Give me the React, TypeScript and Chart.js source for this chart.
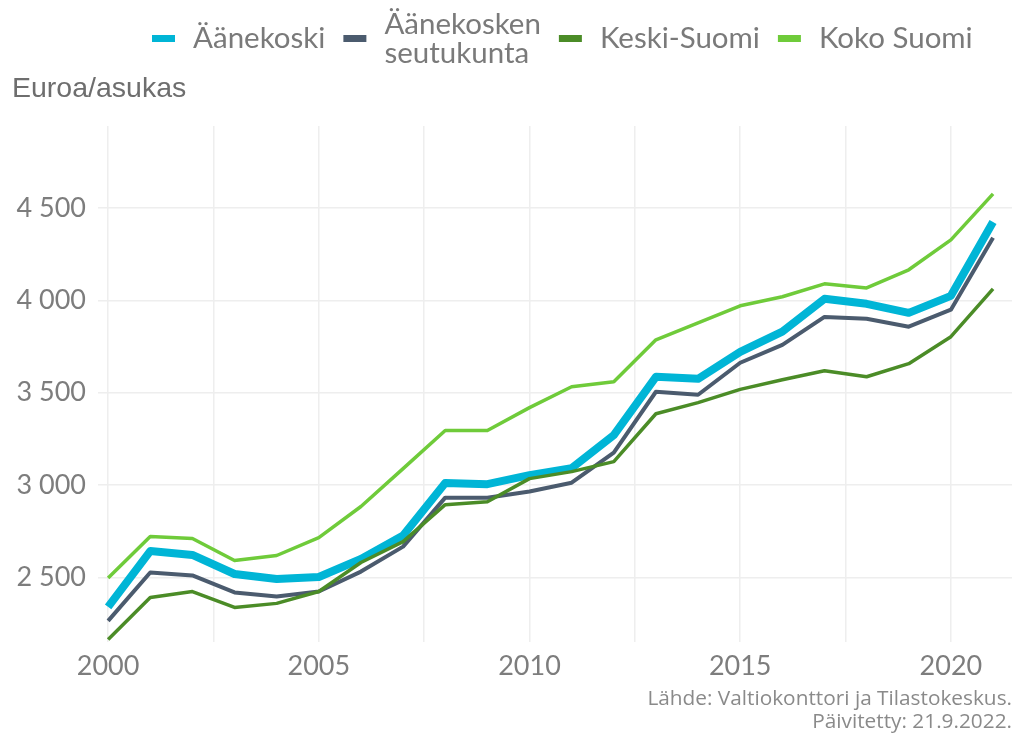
import React, { useEffect, useRef } from "react";
import { Chart, registerables } from "chart.js";

Chart.register(...registerables);

const years = [2000, 2001, 2002, 2003, 2004, 2005, 2006, 2007, 2008, 2009, 2010, 2011, 2012, 2013, 2014, 2015, 2016, 2017, 2018, 2019, 2020, 2021];

const aanekoski = [2341, 2643, 2622, 2519, 2492, 2503, 2600, 2727, 3011, 3005, 3054, 3092, 3270, 3586, 3575, 3721, 3830, 4008, 3981, 3932, 4024, 4424];
const seutukunta = [2265, 2527, 2511, 2419, 2397, 2424, 2532, 2667, 2932, 2932, 2965, 3013, 3176, 3505, 3489, 3662, 3759, 3910, 3900, 3857, 3949, 4338];
const keskiSuomi = [2165, 2392, 2424, 2338, 2360, 2424, 2581, 2694, 2894, 2910, 3035, 3073, 3127, 3386, 3446, 3518, 3570, 3619, 3586, 3657, 3803, 4062];
const kokoSuomi = [2497, 2722, 2711, 2592, 2619, 2716, 2884, 3089, 3295, 3295, 3419, 3532, 3559, 3786, 3878, 3970, 4019, 4089, 4067, 4165, 4327, 4576];

const seriesNames = [["Äänekoski"], ["Äänekosken", "seutukunta"], ["Keski-Suomi"], ["Koko Suomi"]];
const seriesColors = ["#00b5d6", "#4b5b6e", "#4b8c27", "#6fcb3a"];
const seriesWidths = [8, 4, 3.5, 3.5];

const yTicks = [2500, 3000, 3500, 4000, 4500];
const xGridTicks = [2000, 2002.5, 2005, 2007.5, 2010, 2012.5, 2015, 2017.5, 2020];
const xLabelTicks = [2000, 2005, 2010, 2015, 2020];

const yTitle = "Euroa/asukas";
const footer = ["Lähde: Valtiokonttori ja Tilastokeskus.", "Päivitetty: 21.9.2022."];

const FONT = "Lato, 'Open Sans', sans-serif";

const fmt = (v: number) => {
  const s = String(Math.round(v));
  return s.length > 3 ? s.slice(0, s.length - 3) + " " + s.slice(s.length - 3) : s;
};

const decorPlugin = {
  id: "decor",
  afterDraw(chart: any) {
    const ctx = chart.ctx as CanvasRenderingContext2D;
    ctx.save();
    // y title
    ctx.fillStyle = "#6e6e6e";
    ctx.font = `28.5px 'Liberation Sans', Arial, sans-serif`;
    ctx.textAlign = "left";
    ctx.textBaseline = "middle";
    ctx.fillText(yTitle, 12, 89);

    // legend
    ctx.font = `29.5px ${FONT}`;
    let x = 152;
    const cy = 38;
    seriesNames.forEach((lines, i) => {
      ctx.fillStyle = seriesColors[i];
      ctx.fillRect(x, cy - 3, 23, 7);
      x += 23 + 18;
      ctx.fillStyle = "#7a7a7a";
      let w = 0;
      if (lines.length === 1) {
        ctx.fillText(lines[0], x, cy);
        w = ctx.measureText(lines[0]).width;
      } else {
        ctx.fillText(lines[0], x, cy - 14);
        ctx.fillText(lines[1], x, cy + 15);
        w = Math.max(ctx.measureText(lines[0]).width, ctx.measureText(lines[1]).width);
      }
      x += w + 18;
    });

    // footer
    ctx.font = `20.8px 'Open Sans', sans-serif`;
    ctx.fillStyle = "#8a8a8a";
    ctx.textAlign = "right";
    ctx.fillText(footer[0], 1012, 699);
    ctx.fillText(footer[1], 1012, 722);
    ctx.restore();
  },
};

export default function App() {
  const ref = useRef<HTMLCanvasElement | null>(null);

  useEffect(() => {
    if (!ref.current) return;
    const mk = (vals: number[]) => years.map((yr, i) => ({ x: yr, y: vals[i] }));
    const all = [aanekoski, seutukunta, keskiSuomi, kokoSuomi];
    const order = [3, 2, 1, 0];
    const chart = new Chart(ref.current, {
      type: "line",
      data: {
        datasets: order.map((i) => ({
          label: seriesNames[i].join(" "),
          data: mk(all[i]),
          borderColor: seriesColors[i],
          backgroundColor: seriesColors[i],
          borderWidth: seriesWidths[i],
          pointRadius: 0,
          tension: 0,
          fill: false,
          borderJoinStyle: "round" as const,
        })),
      },
      options: {
        animation: false,
        responsive: false,
        maintainAspectRatio: false,
        layout: { padding: { top: 126, right: 5, bottom: 0, left: 0 } },
        plugins: { legend: { display: false }, tooltip: { enabled: false }, title: { display: false } },
        scales: {
          x: {
            type: "linear",
            min: 1999.76,
            max: 2021.45,
            border: { display: false },
            grid: { color: "#eeeeee", lineWidth: 1.5, drawTicks: false },
            afterBuildTicks: (scale: any) => {
              scale.ticks = xGridTicks.map((v) => ({ value: v }));
            },
            afterFit: (scale: any) => {
              scale.height = 93;
            },
            ticks: {
              autoSkip: false,
              maxRotation: 0,
              padding: 8,
              color: "#7d7d7d",
              font: { family: FONT, size: 27 },
              callback: (v: any) => (xLabelTicks.includes(Number(v)) ? String(v) : ""),
            },
          },
          y: {
            type: "linear",
            min: 2151,
            max: 4943,
            border: { display: false },
            grid: { color: "#eeeeee", lineWidth: 1.5, drawTicks: false },
            afterBuildTicks: (scale: any) => {
              scale.ticks = yTicks.map((v) => ({ value: v }));
            },
            afterFit: (scale: any) => {
              scale.width = 98;
            },
            ticks: {
              padding: 12,
              color: "#7d7d7d",
              font: { family: FONT, size: 27 },
              callback: (v: any) => fmt(Number(v)),
            },
          },
        },
      },
      plugins: [decorPlugin],
    });
    return () => chart.destroy();
  }, []);

  return (
    <div style={{ position: "absolute", left: 0, top: 0, width: 1017, height: 735, background: "#ffffff" }}>
      <canvas ref={ref} width={1017} height={735} style={{ width: 1017, height: 735, display: "block" }} />
    </div>
  );
}
